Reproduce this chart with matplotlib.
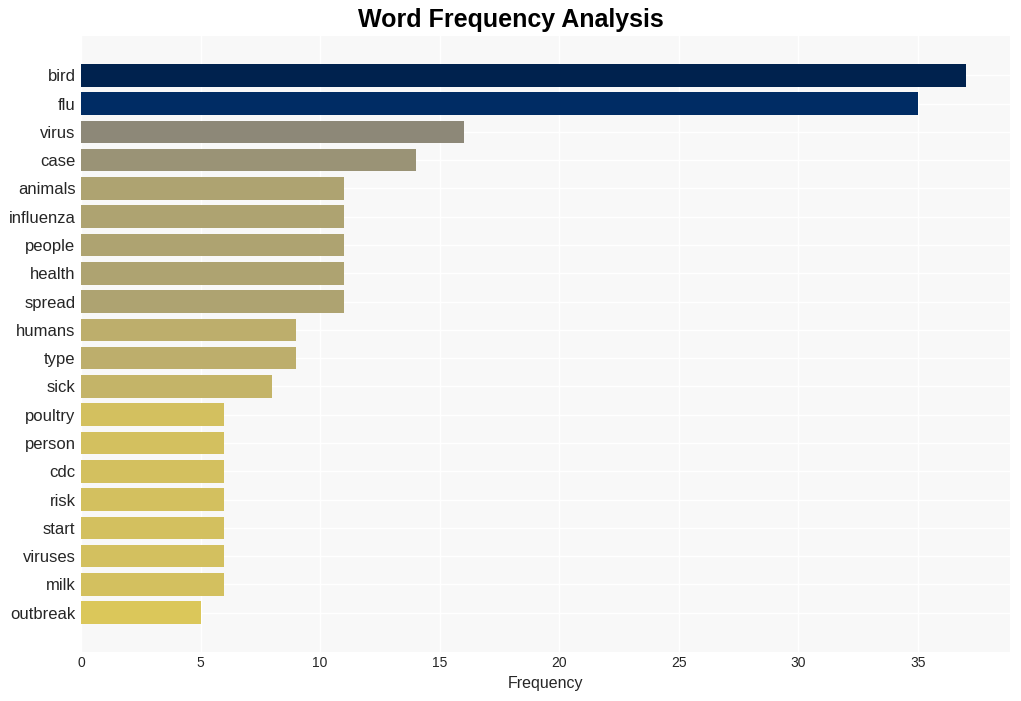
import matplotlib
matplotlib.use("Agg")
import matplotlib.pyplot as plt
import numpy as np

words = ["bird", "flu", "virus", "case", "animals", "influenza", "people", "health",
         "spread", "humans", "type", "sick", "poultry", "person", "cdc", "risk",
         "start", "viruses", "milk", "outbreak"]
counts = [37, 35, 16, 14, 11, 11, 11, 11, 11, 9, 9, 8, 6, 6, 6, 6, 6, 6, 6, 5]

plt.rcParams['font.family'] = ['Liberation Sans', 'DejaVu Sans']

fig = plt.figure(figsize=(10.21, 7.01), dpi=100)
ax = fig.add_axes([81/1021, 1-652/701, (1010-81)/1021, (652-36)/701])
ax.set_facecolor('#f8f8f8')

vals = np.array(counts, dtype=float)
colors = plt.cm.cividis(1 - vals / vals.max())
y = np.arange(len(words))
ax.barh(y, vals, height=0.8, color=colors, zorder=3)
ax.set_yticks(y)
ax.set_yticklabels(words, fontsize=12, color='#262626')
ax.invert_yaxis()
ax.set_xticks(np.arange(0, 40, 5))
ax.tick_params(axis='x', labelsize=10, colors='#262626', length=0, pad=3)
ax.tick_params(axis='y', length=0, pad=4)
ax.grid(True, color='white', linewidth=1, zorder=0)
ax.set_axisbelow(True)
for s in ax.spines.values():
    s.set_visible(False)
ax.set_xlabel('Frequency', fontsize=11.5, color='#262626', labelpad=4.5)
fig.text(0.5, 1 - 20/701, 'Word Frequency Analysis', fontsize=18, fontweight='bold',
         ha='center', va='center')
fig.savefig('out.png', dpi=100)
